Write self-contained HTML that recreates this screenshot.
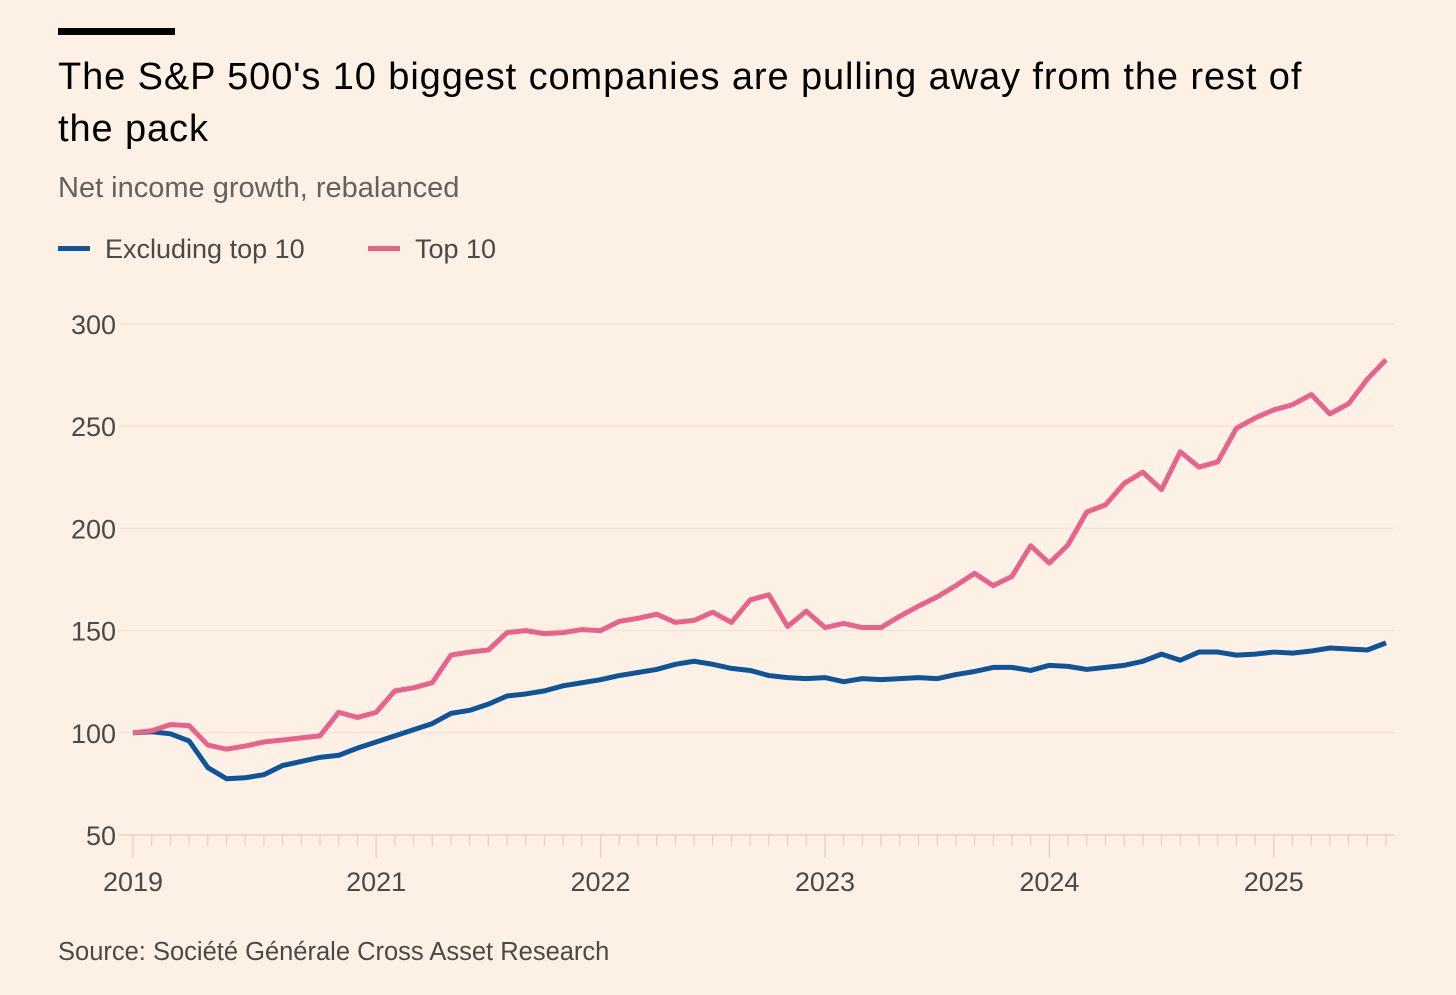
<!DOCTYPE html>
<html><head><meta charset="utf-8"><style>
body{margin:0;background:#fdf1e6;font-family:"Liberation Sans",sans-serif;}
#wrap{position:relative;width:1456px;height:995px;overflow:hidden;background:#fdf1e6}
.t{position:absolute;white-space:nowrap}
</style></head><body>
<div id="wrap">
<div style="position:absolute;left:58px;top:28px;width:117px;height:7px;background:#000"></div>
<div class="t" style="left:58px;top:51px;font-size:38px;letter-spacing:0.9px;line-height:52px;color:#000">The S&amp;P 500's 10 biggest companies are pulling away from the rest of<br>the pack</div>
<div class="t" style="left:58px;top:172px;font-size:29px;color:#66605c">Net income growth, rebalanced</div>
<div>
<div style="position:absolute;left:58px;top:246px;width:32px;height:5px;background:#0f5499"></div>
<div class="t" style="left:105px;top:234px;font-size:27px;color:#4d4845">Excluding top 10</div></div>
<div>
<div style="position:absolute;left:368px;top:246px;width:32px;height:5px;background:#e8638a"></div>
<div class="t" style="left:415px;top:234px;font-size:27px;color:#4d4845">Top 10</div></div>
<svg id="chart" width="1456" height="995" style="position:absolute;left:0;top:0"></svg>
<div class="t" style="left:58px;top:938px;font-size:25.5px;color:#4d4845">Source: Société Générale Cross Asset Research</div>
</div>
<script>
const yTicks=[50,100,150,200,250,300];
const yearLabels=["2019","2021","2022","2023","2024","2025"];
const yearIdx=[0,13,25,37,49,61];
const top10=[100,101,104,103.5,94,92,93.5,95.5,96.5,97.5,98.5,110,107.5,110,120.5,122,124.5,138,139.5,140.5,149,150,148.5,149,150.5,150,154.5,156,158,154,155,159,154,165,167.5,152,159.5,151.5,153.5,151.5,151.5,157,162,166.5,172,178,172,176.5,191.5,183,192,208,211.5,222,227.5,219,237.5,230,232.5,249,254,258,260.5,265.5,256,261,273,282.5];
const excl=[100,100.5,99.5,96,83,77.5,78,79.5,84,86,88,89,92.5,95.5,98.5,101.5,104.5,109.5,111,114,118,119,120.5,123,124.5,126,128,129.5,131,133.5,135,133.5,131.5,130.5,128,127,126.5,127,125,126.5,126,126.5,127,126.5,128.5,130,132,132,130.5,133,132.5,131,132,133,135,138.5,135.5,139.5,139.5,138,138.5,139.5,139,140,141.5,141,140.5,144];
const NS="http://www.w3.org/2000/svg";
const svg=document.getElementById('chart');
const x0=133,x1=1386,n=top10.length;
const X=i=>x0+(x1-x0)*i/(n-1);
const Y=v=>835-(v-50)*(835-324)/250;
function mk(tag,attrs){const e=document.createElementNS(NS,tag);for(const k in attrs)e.setAttribute(k,attrs[k]);svg.appendChild(e);return e;}
yTicks.forEach(v=>{
 const l=mk('line',{x1:118,x2:1395,y1:Y(v),y2:Y(v),stroke:v===50?'#e6d6c9':'#f2e4d8','stroke-width':1.5});
 
 
 const t=mk('text',{x:116,y:Y(v)+10,'text-anchor':'end','font-size':27,fill:'#4d4845','font-family':'Liberation Sans'});
 t.textContent=v;
 
 
});
for(let i=0;i<n;i++){
 const big=yearIdx.includes(i);
 const tk=mk('line',{x1:X(i),x2:X(i),y1:835,y2:big?858:846,stroke:'#e0cfc2','stroke-width':1.2});
 
 
}
yearLabels.forEach((lab,k)=>{
 const t=mk('text',{x:X(yearIdx[k]),y:891,'text-anchor':'middle','font-size':27,fill:'#4d4845','font-family':'Liberation Sans'});
 t.textContent=lab;
 
 
});
function line(arr,col,name){
 const p=mk('polyline',{points:arr.map((v,i)=>X(i)+','+Y(v)).join(' '),fill:'none',stroke:col,'stroke-width':5,'stroke-linejoin':'round'});
 
 
}
line(excl,'#0f5499','excluding-top-10-line');
line(top10,'#e8638a','top-10-line');
</script>
</body></html>
